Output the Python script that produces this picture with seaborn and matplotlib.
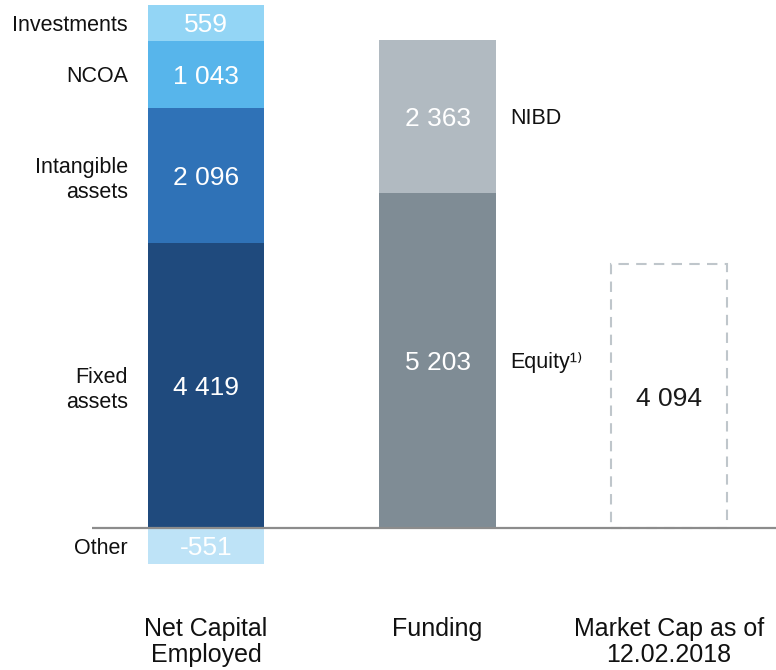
import numpy as np
import pandas as pd
import matplotlib
matplotlib.use("Agg")
import matplotlib.pyplot as plt
import seaborn as sns

# %% Data (NOK m)
bar_keys = ["nce", "funding", "mcap"]
bar_labels = ["Net Capital\nEmployed", "Funding", "Market Cap as of\n12.02.2018"]

nce_segments = ["Fixed\nassets", "Intangible\nassets", "NCOA", "Investments"]
nce_values = [4419, 2096, 1043, 559]
nce_colors = ["#1F4A7D", "#2F72B7", "#57B5EB", "#93D5F5"]

other_segment = "Other"
other_value = -551
other_color = "#BEE3F7"

funding_segments = ["Equity", "NIBD"]
funding_values = [5203, 2363]
funding_colors = ["#7F8C95", "#B1BAC1"]

market_cap = 4094

value_labels = {4419: "4 419", 2096: "2 096", 1043: "1 043", 559: "559",
                -551: "-551", 5203: "5 203", 2363: "2 363", 4094: "4 094"}

# %% Build stacked table
rows = []
for key, segs, vals, cols in [("nce", nce_segments, nce_values, nce_colors),
                              ("funding", funding_segments, funding_values, funding_colors)]:
    bottom = 0
    for s, v, c in zip(segs, vals, cols):
        rows.append(dict(bar=key, segment=s, value=v, bottom=bottom, top=bottom + v, color=c))
        bottom += v
rows.append(dict(bar="nce", segment=other_segment, value=other_value, bottom=0,
                 top=other_value, color=other_color))
df = pd.DataFrame(rows)
df["mid"] = (df.bottom + df.top) / 2

# draw tallest cumulative first so smaller layers sit on top
df = df.sort_values("top", ascending=False)
palette = dict(zip(df.segment, df.color))

# %% Plot
sns.set_style("white")
plt.rcParams["font.family"] = ["Liberation Sans", "DejaVu Sans"]

fig = plt.figure(figsize=(7.76, 6.7), dpi=100)
ax = fig.add_axes([0, 0, 1, 1])

W = 0.505
sns.barplot(data=df, x="bar", y="top", hue="segment", hue_order=list(df.segment),
            order=bar_keys, palette=palette, dodge=False, width=W, saturation=1,
            errorbar=None, legend=False, linewidth=0, ax=ax)

sns.barplot(x=["mcap"], y=[market_cap], order=bar_keys, color="white",
            edgecolor="#BFC6CB", linestyle=(0, (5, 3.5)), linewidth=1.5,
            width=W, saturation=1, errorbar=None, ax=ax)

ax.plot([-0.492, 2.6], [0, 0], color="#8C8C8C", lw=1.6, zorder=5,
        solid_capstyle="butt")

xpos = {k: i for i, k in enumerate(bar_keys)}

# values inside bars
for _, r in df.iterrows():
    ax.text(xpos[r.bar], r.mid, value_labels[r.value], ha="center",
            va="center_baseline", color="white", fontsize=19, zorder=6)
ax.text(xpos["mcap"], market_cap / 2, value_labels[market_cap], ha="center",
        va="center_baseline", color="#1A1A1A", fontsize=19, zorder=6)

# segment names
for _, r in df.iterrows():
    if r.bar == "nce":
        ax.text(xpos["nce"] - W / 2 - 0.085, r.mid, r.segment, ha="right",
                va="center_baseline", fontsize=15.5, color="#111111",
                linespacing=1.25)
    else:
        name = r.segment + ("\u00b9\u207e" if r.segment == "Equity" else "")
        ax.text(xpos["funding"] + W / 2 + 0.06, r.mid, name, ha="left",
                va="center_baseline", fontsize=15.5, color="#111111")

# category labels under the axis
for k, lab in zip(bar_keys, bar_labels):
    ax.text(xpos[k], -1380, lab, ha="center", va="top", fontsize=18,
            color="#111111", linespacing=1.1)

ax.set_xlim(-0.89, 2.462)
ax.set_ylim(-2202, 8189)
ax.set_axis_off()

fig.savefig("out.png", dpi=100)
